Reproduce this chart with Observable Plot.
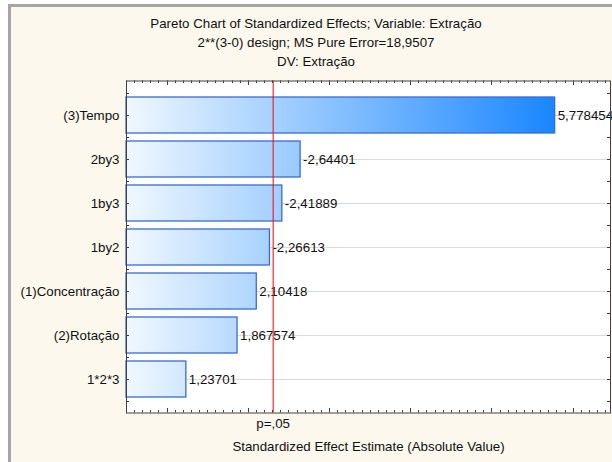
<!DOCTYPE html>
<html><head><meta charset="utf-8">
<script src="https://cdn.jsdelivr.net/npm/d3@7"></script>
<script src="https://cdn.jsdelivr.net/npm/@observablehq/plot@0.6"></script>
<style>
html,body{margin:0;padding:0;background:#ffffff;}
#wrap{position:relative;width:612px;height:462px;overflow:hidden;font-family:"Liberation Sans",Arial,sans-serif;}
#panel{position:absolute;left:8px;top:4px;width:700px;height:600px;background:#fcf8ee;border:3px solid #a5a5a5;box-sizing:border-box;}
#titles{position:absolute;left:0;top:15px;width:632px;text-align:center;font-size:13.3px;line-height:18.9px;color:#111;}
#chart{position:absolute;left:0;top:0;}
</style></head>
<body>
<div id="wrap"><div id="panel"></div><div id="titles"></div><div id="chart"></div></div>
<script>
// ---- data ----
const effects = ["(3)Tempo", "2by3", "1by3", "1by2", "(1)Concentração", "(2)Rotação", "1*2*3"];
const estimates = [5.778454, -2.64401, -2.41889, -2.26613, 2.10418, 1.867574, 1.23701];
const pCritical = 2.306;
const pLabel = "p=,05";
const titleLines = [
  "Pareto Chart of Standardized Effects; Variable: Extração",
  "2**(3-0) design; MS Pure Error=18,9507",
  "DV: Extração"
];
const xTitle = "Standardized Effect Estimate (Absolute Value)";
const xDomain = [0.5, 6.46];

// ---- titles ----
document.getElementById("titles").innerHTML = titleLines.map(t => `<div>${t}</div>`).join("");

const data = effects.map((name, i) => ({
  name,
  value: Math.abs(estimates[i]),
  label: String(estimates[i]).replace(".", ",")
}));
const maxValue = d3.max(data, d => d.value);

function gradientDefs(index, scales) {
  const defs = d3.create("svg:defs");
  const lg = defs.append("linearGradient")
    .attr("id", "barGrad")
    .attr("gradientUnits", "userSpaceOnUse")
    .attr("x1", scales.x(xDomain[0])).attr("x2", scales.x(maxValue))
    .attr("y1", 0).attr("y2", 0);
  lg.append("stop").attr("offset", 0).attr("stop-color", "#f0f8ff");
  lg.append("stop").attr("offset", 1).attr("stop-color", "#1a86ff");
  return defs.node();
}

function frameTicks(index, scales, values, dims) {
  const {width, height, marginTop, marginRight, marginBottom, marginLeft} = dims;
  const top = marginTop, bottom = height - marginBottom, left = marginLeft, right = width - marginRight;
  const g = d3.create("svg:g").attr("stroke", "#404040").attr("stroke-width", 1).attr("fill", "none");
  const n = Math.floor((xDomain[1] - xDomain[0]) * 10 + 1e-9);
  for (let k = 0; k <= n; k++) {
    const v = xDomain[0] + k / 10;
    const major = Math.abs(v - Math.round(v)) < 1e-6;
    const len = major ? 4.5 : 2.5;
    const x = Math.round(scales.x(v)) + 0.5;
    g.append("line").attr("x1", x).attr("x2", x).attr("y1", top).attr("y2", top + len);
    g.append("line").attr("x1", x).attr("x2", x).attr("y1", bottom).attr("y2", bottom - len);
  }
  const ys = scales.y;
  let bw = typeof ys.bandwidth === "function" ? ys.bandwidth() : ys.bandwidth;
  const step = ys(effects[1]) - ys(effects[0]);
  if (!(bw > 0)) bw = step * 0.81;
  const gap = (step - bw) / 2;
  const yt = [];
  effects.forEach((e, i) => {
    const y0 = ys(e);
    yt.push(y0 - gap, y0 + bw / 2);
    if (i === effects.length - 1) yt.push(y0 + bw + gap);
  });
  for (const y of yt) {
    const yy = Math.round(y) + 0.5;
    g.append("line").attr("x1", left).attr("x2", left + 3).attr("y1", yy).attr("y2", yy);
    g.append("line").attr("x1", right).attr("x2", right - 3).attr("y1", yy).attr("y2", yy);
  }
  return g.node();
}

const chart = Plot.plot({
  width: 612,
  height: 462,
  marginTop: 80.5,
  marginLeft: 126,
  marginRight: 2,
  marginBottom: 49.5,
  style: {background: "transparent", fontFamily: "'Liberation Sans', Arial, sans-serif", fontSize: "13.3px", color: "#111"},
  x: {domain: xDomain, axis: null},
  y: {domain: effects, range: [91.5, 401.5], paddingInner: 0.19, paddingOuter: 0.095, axis: null},
  marks: [
    Plot.frame({fill: "white", stroke: null}),
    Plot.ruleY(effects, {y: d => d, stroke: "#dadada"}),
    gradientDefs,
    Plot.barX(data, {x1: xDomain[0], x2: "value", y: "name", fill: "url(#barGrad)", stroke: "#3a6ad6", strokeWidth: 1.3}),
    Plot.text(data, {x: "value", y: "name", text: "label", textAnchor: "start", dx: 2.5, fill: "#111"}),
    Plot.ruleX([pCritical], {x: d => d, stroke: "#ff0000", strokeWidth: 1}),
    Plot.axisY({tickSize: 0, tickPadding: 7, label: null, fill: "#111"}),
    frameTicks,
    Plot.frame({stroke: "#404040"}),
    Plot.text([pLabel], {x: () => pCritical, text: d => d, frameAnchor: "bottom", dy: 15.4, fill: "#111"}),
    Plot.text([xTitle], {text: d => d, frameAnchor: "bottom", dy: 38, fill: "#111"})
  ]
});
document.getElementById("chart").appendChild(chart);
</script>
</body></html>
